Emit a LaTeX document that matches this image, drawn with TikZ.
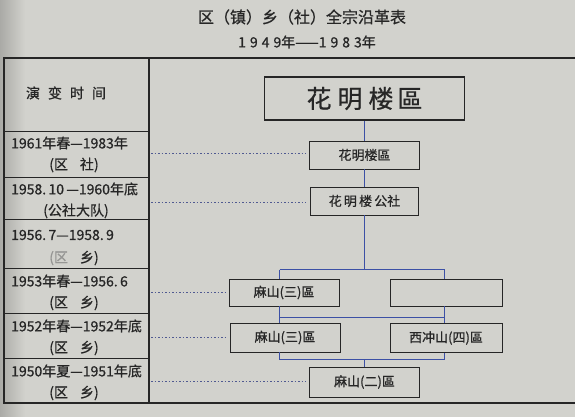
\documentclass[tikz,border=0pt]{standalone}
\usepackage{fontspec}
\newfontfamily\cjk[FakeBold=0.8]{Noto Sans CJK SC}
\definecolor{paper}{RGB}{210,210,205}
\definecolor{shadow}{RGB}{170,170,166}
\definecolor{ink}{RGB}{38,38,38}
\definecolor{faded}{RGB}{150,150,148}
\definecolor{blueline}{RGB}{60,80,165}
\definecolor{dotc}{RGB}{80,90,145}
\begin{document}
\begin{tikzpicture}[x=1pt,y=-1pt,
  box/.style={draw=ink, line width=0.9pt, inner sep=0pt, text=ink,
    font=\cjk\fontsize{13}{13}\selectfont},
  conn/.style={draw=blueline, line width=1pt},
  dotln/.style={draw=dotc, line width=0.9pt, dash pattern=on 1.5pt off 2pt, shorten >=4pt},
  rowtxt/.style={text=ink, inner sep=0pt, font=\cjk\fontsize{14}{14}\selectfont},
  titletxt/.style={text=ink, inner sep=0pt, font=\cjk\fontsize{16}{16}\selectfont},
  rulemajor/.style={draw=ink, line width=1.6pt},
  ruleminor/.style={draw=ink, line width=0.9pt}]
\fill[paper] (0,0) rectangle (575,417);
\shade[left color=shadow, right color=paper] (0,0) rectangle (25,417);
\useasboundingbox (0,0) rectangle (575,417);

% titles
\node[titletxt] (title) at (302,17) {区（镇）乡（社）全宗沿革表};
\node[titletxt, font=\cjk\fontsize{14}{14}\selectfont] (years) at (307,42)
  {1\hspace{4pt}9\hspace{4pt}4\hspace{4pt}9年——1\hspace{4pt}9\hspace{4pt}8\hspace{4pt}3年};

% table frame
\draw[rulemajor] (3,58) -- (575,58);
\draw[rulemajor] (3,403) -- (575,403);
\draw[rulemajor] (4,58) -- (4,403);
\draw[ruleminor, line width=1.2pt] (149,58) -- (149,403);
\foreach \yy in {131,177,219,268,313,358}
  \draw[ruleminor] (4,\yy) -- (149,\yy);

% left column texts
\node[rowtxt] (head) at (66,93) {演\hspace{8pt}变\hspace{8pt}时\hspace{8pt}间};
\node[rowtxt, anchor=west] (r1a) at (11,143) {1961年春—1983年};
\node[rowtxt] (r1b) at (74,165) {(区\hspace{12pt}社)};
\node[rowtxt, anchor=west] (r2a) at (11,189) {1958.\,10\,—1960年底};
\node[rowtxt] (r2b) at (76,211) {(公社大队)};
\node[rowtxt, anchor=west] (r3a) at (11,235) {1956.\,7—1958.\,9};
\node[rowtxt] (r3b) at (74,258) {\textcolor{faded}{(区}\hspace{12pt}乡)};
\node[rowtxt, anchor=west] (r4a) at (11,281) {1953年春—1956.\,6};
\node[rowtxt] (r4b) at (74,303) {(区\hspace{12pt}乡)};
\node[rowtxt, anchor=west] (r5a) at (11,326) {1952年春—1952年底};
\node[rowtxt] (r5b) at (74,348) {(区\hspace{12pt}乡)};
\node[rowtxt, anchor=west] (r6a) at (11,371) {1950年夏—1951年底};
\node[rowtxt] (r6b) at (74,393) {(区\hspace{12pt}乡)};

% boxes
\node[box, line width=1.8pt, minimum width=200pt, minimum height=43pt,
  font=\cjk\fontsize{25}{25}\selectfont] (top) at (364.5,98.5)
  {花\hspace{6pt}明\hspace{6pt}楼\hspace{4pt}區};
\node[box, minimum width=110pt, minimum height=28pt] (b2) at (364.5,155) {花明楼區};
\node[box, minimum width=108pt, minimum height=28pt] (b3) at (364.5,201) {花\,明\,楼\,公社};
\node[box, minimum width=110pt, minimum height=27pt] (b4L) at (284,292.5) {麻山(三)區};
\node[box, minimum width=112pt, minimum height=27pt] (b4R) at (446,292.5) {};
\node[box, minimum width=110pt, minimum height=29pt] (b5L) at (285,337.5) {麻山(三)區};
\node[box, minimum width=112pt, minimum height=29pt] (b5R) at (446,338) {西冲山(四)區};
\node[box, minimum width=110pt, minimum height=30pt] (b6) at (364.5,382) {麻山(二)區};

% junction coordinates
\coordinate (j1) at (364.5,269.5);
\coordinate (jL) at (279.5,269.5);
\coordinate (jR) at (444.5,269.5);
\coordinate (kL) at (279.5,317.5);
\coordinate (kR) at (444.5,317.5);
\coordinate (mL) at (279.5,359.5);
\coordinate (mR) at (444.5,359.5);
\coordinate (m1) at (364.5,359.5);

% connectors
\draw[conn] (top.south) -- (b2.north);
\draw[conn] (b2.south) -- (b3.north);
\draw[conn] (b3.south) -- (j1);
\draw[conn] (jL) -- (jR);
\draw[conn] (jL) -- (jL |- b4L.north);
\draw[conn] (jR) -- (jR |- b4R.north);
\draw[conn] (jL |- b4L.south) -- (kL);
\draw[conn] (jR |- b4R.south) -- (kR);
\draw[conn] (kL) -- (kR);
\draw[conn] (kL) -- (kL |- b5L.north);
\draw[conn] (kR) -- (kR |- b5R.north);
\draw[conn] (kL |- b5L.south) -- (mL);
\draw[conn] (kR |- b5R.south) -- (mR);
\draw[conn] (mL) -- (mR);
\draw[conn] (m1) -- (b6.north);

% dotted guide lines
\coordinate (c1) at (151,153);
\coordinate (c2) at (151,202);
\coordinate (c4) at (151,292);
\coordinate (c5) at (151,337);
\coordinate (c6) at (151,381);
\draw[dotln] (c1) -- (c1 -| b2.west);
\draw[dotln] (c2) -- (c2 -| b3.west);
\draw[dotln] (c4) -- (c4 -| b4L.west);
\draw[dotln] (c5) -- (c5 -| b5L.west);
\draw[dotln] (c6) -- (c6 -| b6.west);
\end{tikzpicture}
\end{document}
